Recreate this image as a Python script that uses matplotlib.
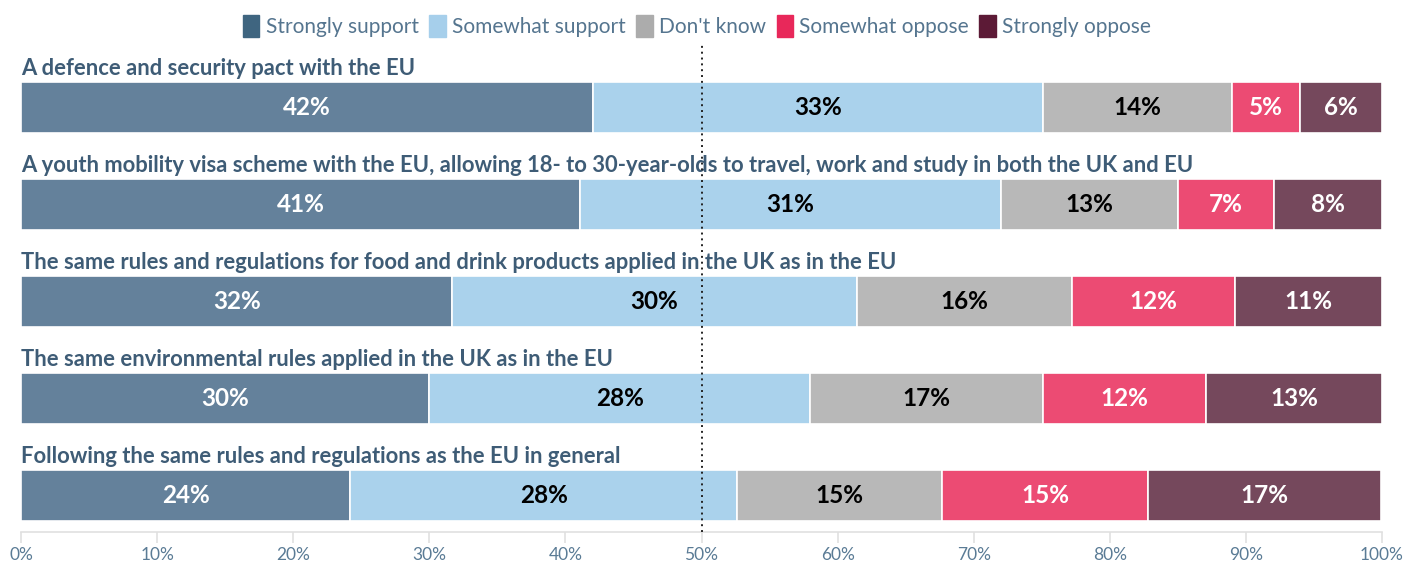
import matplotlib
matplotlib.use("Agg")
import matplotlib.pyplot as plt
from matplotlib.patches import Patch
import numpy as np

plt.rcParams['font.family'] = ['Lato', 'DejaVu Sans']

# Data
questions = [
    "A defence and security pact with the EU",
    "A youth mobility visa scheme with the EU, allowing 18- to 30-year-olds to travel, work and study in both the UK and EU",
    "The same rules and regulations for food and drink products applied in the UK as in the EU",
    "The same environmental rules applied in the UK as in the EU",
    "Following the same rules and regulations as the EU in general",
]
categories = ["Strongly support", "Somewhat support", "Don't know", "Somewhat oppose", "Strongly oppose"]
strongly_support = [42.0, 41.1, 31.7, 30.0, 24.2]
somewhat_support = [33.1, 30.9, 29.7, 28.0, 28.4]
dont_know = [13.9, 13.0, 15.8, 17.1, 15.1]
somewhat_oppose = [5.0, 7.1, 12.0, 12.0, 15.1]
strongly_oppose = [6.0, 7.9, 10.8, 12.9, 17.1]
xticks = [0, 10, 20, 30, 40, 50, 60, 70, 80, 90, 100]

series = [strongly_support, somewhat_support, dont_know, somewhat_oppose, strongly_oppose]
legend_colors = ["#3f6580", "#a6cfeb", "#acacac", "#e8285a", "#5c1a36"]
bar_colors = ["#64819b", "#aad2ec", "#b8b8b8", "#ec4b73", "#75485c"]
text_colors = ["white", "black", "black", "white", "white"]
label_col = "#3e5c76"

fig = plt.figure(figsize=(14.21, 5.62), dpi=100)
ax = fig.add_axes([21/1421, 1-532/562, (1382-21)/1421, (532-45)/562])

y = np.arange(len(questions))
left = np.zeros(len(questions))
for vals, bc, tc in zip(series, bar_colors, text_colors):
    vals = np.array(vals)
    ax.barh(y, vals, left=left, height=0.526, color=bc, edgecolor="white", linewidth=1.2)
    for yi, l, v in zip(y, left, vals):
        ax.text(l + v/2, yi, f"{round(v)}%", ha="center", va="center",
                color=tc, fontsize=17.5, fontweight="bold")
    left += vals

for yi, q in zip(y, questions):
    ax.text(0, yi - 0.40, q, ha="left", va="center", color=label_col,
            fontsize=15.8, fontweight="bold")

# 50% reference line, drawn over labels and bars
ax.axvline(50, color="#222222", linestyle=(0, (1, 2)), linewidth=1.4, zorder=5)

ax.set_xlim(0, 100)
ax.set_ylim(4.376, -0.644)
ax.set_yticks([])
ax.set_xticks(xticks)
ax.set_xticklabels([f"{t}%" for t in xticks])
ax.tick_params(axis="x", colors="#e0e0e0", length=8, width=1.2, labelcolor="#5a7b95",
               labelsize=12.5, pad=3)
for s in ["top", "right", "left"]:
    ax.spines[s].set_visible(False)
ax.spines["bottom"].set_color("#e0e0e0")
ax.spines["bottom"].set_linewidth(1.2)

handles = [Patch(facecolor=c, edgecolor=c, label=n) for c, n in zip(legend_colors, categories)]
fig.legend(handles=handles, loc="center", bbox_to_anchor=(697/1421, 1-26/562), ncol=5,
           frameon=False, handlelength=0.8, handleheight=1.3, handletextpad=0.3,
           columnspacing=0.5, labelcolor="#55758f", fontsize=15)

fig.savefig("out.png", dpi=100)
